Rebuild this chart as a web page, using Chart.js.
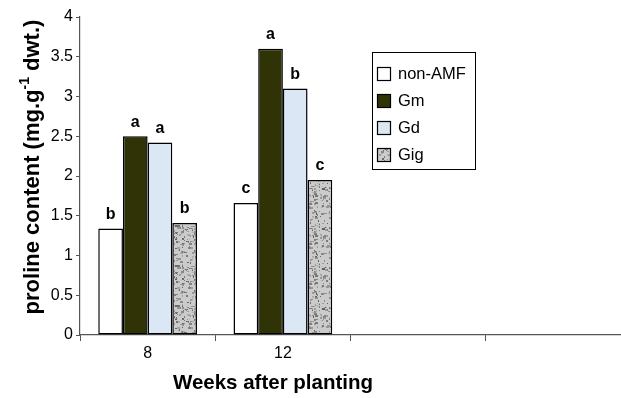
<!DOCTYPE html>
<html>
<head>
<meta charset="utf-8">
<script src="https://cdn.jsdelivr.net/npm/chart.js@4/dist/chart.umd.min.js"></script>
<style>
  html, body { margin: 0; padding: 0; background: #fff; }
  #wrap { width: 621px; height: 398px; }
</style>
</head>
<body>
<div id="wrap"><canvas id="c" width="621" height="398"></canvas></div>
<script>
const weeks = ["8", "12", "", ""];
const nonAMF = [1.34, 1.66];
const gm = [2.5, 3.6];
const gd = [2.42, 3.1];
const gig = [1.41, 1.95];
const letters = [["b", "c"], ["a", "a"], ["a", "b"], ["b", "c"]];
const seriesNames = ["non-AMF", "Gm", "Gd", "Gig"];

const FONT = "'Liberation Sans', Arial, sans-serif";

// grey speckled fill for Gig
function speckle() {
  const p = document.createElement("canvas");
  p.width = 40; p.height = 40;
  const g = p.getContext("2d");
  g.fillStyle = "#cbcbcb";
  g.fillRect(0, 0, 40, 40);
  let s = 11;
  const rnd = () => { s = (s * 1103515245 + 12345) % 2147483648; return s / 2147483648; };
  for (let i = 0; i < 180; i++) {
    const v = Math.floor(95 + rnd() * 90);
    g.fillStyle = `rgb(${v},${v},${v})`;
    g.fillRect(Math.floor(rnd() * 40), Math.floor(rnd() * 40), 1 + Math.floor(rnd() * 3), 1 + Math.floor(rnd() * 2));
  }
  return g.createPattern(p, "repeat");
}

const ctx = document.getElementById("c").getContext("2d");
const fills = ["#ffffff", "#2f3305", "#dbe7f5", speckle()];

const extras = {
  id: "extras",
  afterDatasetsDraw(chart) {
    const c = chart.ctx;
    c.save();
    // letters above bars
    c.fillStyle = "#000";
    c.font = "bold 16px " + FONT;
    c.textAlign = "center";
    c.textBaseline = "bottom";
    chart.data.datasets.forEach((ds, i) => {
      chart.getDatasetMeta(i).data.forEach((bar, j) => {
        c.fillText(letters[i][j], bar.x, bar.y - 6);
      });
    });

    // legend
    c.strokeStyle = "#000";
    c.lineWidth = 1;
    c.strokeRect(372.5, 52.5, 103, 117);
    c.font = "16.5px " + FONT;
    c.textAlign = "left";
    c.textBaseline = "middle";
    seriesNames.forEach((name, i) => {
      const y = 73 + i * 27;
      c.fillStyle = fills[i];
      c.fillRect(377, y - 6, 14, 14);
      c.strokeStyle = "#000";
      c.lineWidth = 1.2;
      c.strokeRect(377.5, y - 5.5, 13, 13);
      c.fillStyle = "#000";
      c.fillText(name, 398, y + 1);
    });

    // x title
    c.font = "bold 20.5px " + FONT;
    c.textAlign = "center";
    c.textBaseline = "middle";
    c.fillText("Weeks after planting", 273, 383);

    // y title with superscript
    c.translate(33, 167);
    c.rotate(-Math.PI / 2);
    const bigF = "bold 22px " + FONT;
    const supF = "bold 14px " + FONT;
    const a = "proline content (mg.g", sup = "-1", b = " dwt.)";
    c.font = bigF; const wa = c.measureText(a).width, wb = c.measureText(b).width;
    c.font = supF; const ws = c.measureText(sup).width;
    let x0 = -(wa + ws + wb) / 2;
    c.textAlign = "left";
    c.font = bigF; c.fillText(a, x0, 0);
    c.font = supF; c.fillText(sup, x0 + wa, -8);
    c.font = bigF; c.fillText(b, x0 + wa + ws, 0);
    c.restore();
  }
};

const mk = (label, data, i) => ({
  label, data,
  backgroundColor: fills[i],
  borderColor: "#000",
  borderWidth: 1.5,
  borderSkipped: false,
  categoryPercentage: 0.73,
  barPercentage: 1
});

new Chart(ctx, {
  type: "bar",
  data: {
    labels: weeks,
    datasets: seriesNames.map((n, i) => mk(n, [nonAMF, gm, gd, gig][i], i))
  },
  options: {
    responsive: false,
    animation: false,
    layout: { padding: { top: 17, right: 0, left: 0, bottom: 0 } },
    plugins: { legend: { display: false }, tooltip: { enabled: false } },
    scales: {
      x: {
        grid: { offset: true, drawOnChartArea: false, color: "#555", tickLength: 6 },
        border: { color: "#555", width: 1.2 },
        ticks: { color: "#000", font: { size: 16, family: FONT }, padding: 3 },
        afterFit(s) { s.height = 63; }
      },
      y: {
        min: 0, max: 4,
        ticks: {
          stepSize: 0.5, color: "#000", font: { size: 16, family: FONT }, padding: 3,
          callback: v => String(v)
        },
        grid: { drawOnChartArea: false, color: "#555", tickLength: 4 },
        border: { color: "#555", width: 1.2 },
        afterFit(s) { s.width = 80; }
      }
    }
  },
  plugins: [extras]
});
</script>
</body>
</html>
